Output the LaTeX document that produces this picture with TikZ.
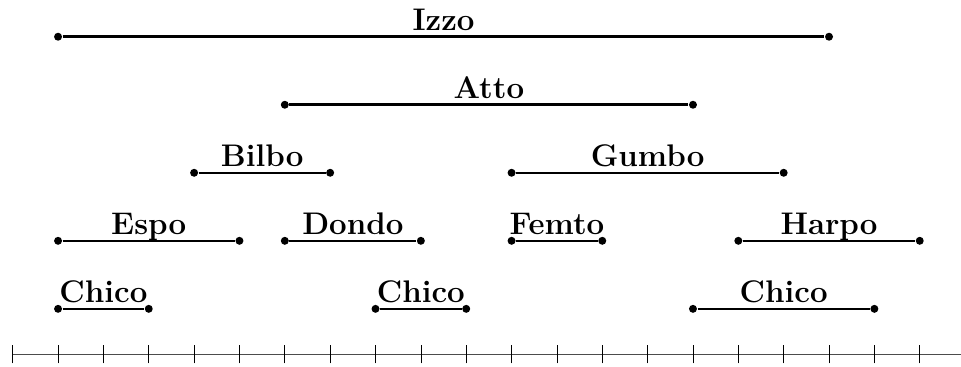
\documentclass[tikz,border=0pt]{standalone}
\usepackage{amsmath}
\usepackage{tikz}
\usetikzlibrary{positioning}
\begin{document}
\begin{tikzpicture}[thick,
                end node/.style={circle,fill,inner sep=0pt,minimum size=5pt},
                name node/.style={anchor=base,yshift=4.2pt,inner sep=0pt,font=\fontsize{19.6}{24}\selectfont\bfseries},
                int line/.style={line width=1.6pt}]
            \useasboundingbox (-0.28,-0.28) rectangle (20.91,7.81);
            % number line
            \draw[thin,black!70] (0,0) -- (20.91,0);
            \foreach \x in {0,...,20}
                \draw[thin] (\x,-0.2) -- (\x,0.2);
            % intervals
            \foreach \a/\b/\y/\n/\t in {1/18/7/izzo/Izzo, 6/15/5.5/atto/Atto,
                    4/7/4/bilbo/Bilbo, 11/17/4/gumbo/Gumbo,
                    1/5/2.5/espo/Espo, 6/9/2.5/dondo/Dondo, 11/13/2.5/femto/Femto, 16/20/2.5/harpo/Harpo,
                    1/3/1/chicoa/Chico, 8/10/1/chicob/Chico, 15/19/1/chicoc/Chico}{
                \node[end node] (\n-l) at (\a,\y) {};
                \node[end node] (\n-r) at (\b,\y) {};
                \draw[int line] (\n-l) -- node[name node] {\t} (\n-r);
            }
        \end{tikzpicture}
\end{document}
